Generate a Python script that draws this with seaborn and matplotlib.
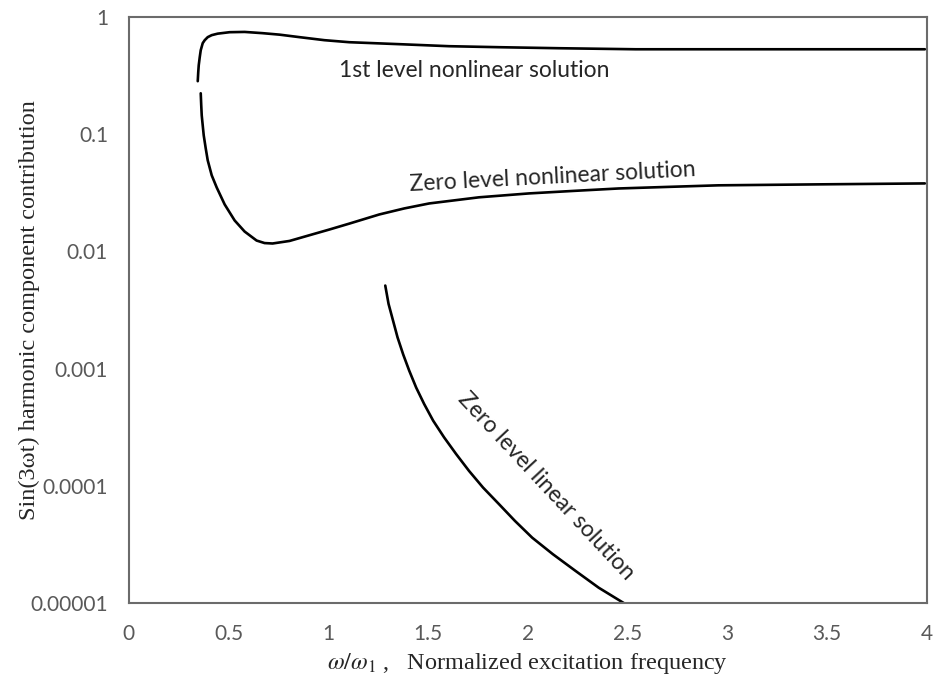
import matplotlib
matplotlib.use("Agg")
import matplotlib.pyplot as plt
import seaborn as sns
import pandas as pd

# values (x = omega/omega_1, y = contribution)
first_x = [0.345, 0.3475, 0.35, 0.355, 0.36, 0.37, 0.38, 0.395, 0.415, 0.445, 0.505, 0.58, 0.67,
           0.755, 0.855, 0.98, 1.105, 1.355, 1.605, 1.855, 2.155, 2.54, 3.105, 3.99]
first_y = [0.284, 0.339, 0.389, 0.455, 0.522, 0.60, 0.636, 0.675, 0.702, 0.723, 0.744, 0.748, 0.730,
           0.709, 0.675, 0.636, 0.611, 0.588, 0.565, 0.554, 0.543, 0.532, 0.532, 0.532]

zero_nl_x = [0.36, 0.3625, 0.365, 0.37, 0.375, 0.385, 0.395, 0.415, 0.44, 0.48, 0.53, 0.58, 0.64,
             0.68, 0.72, 0.805, 0.92, 1.005, 1.105, 1.255, 1.38, 1.505, 1.755, 2.005, 2.23, 2.455,
             2.705, 2.955, 3.455, 3.99]
zero_nl_y = [0.224, 0.177, 0.145, 0.119, 0.098, 0.0759, 0.060, 0.0447, 0.0352, 0.0252, 0.0184,
             0.0148, 0.0124, 0.0118, 0.0117, 0.0123, 0.0140, 0.0154, 0.0173, 0.0207, 0.0233,
             0.0257, 0.0290, 0.0313, 0.0329, 0.0345, 0.0356, 0.0367, 0.0374, 0.0381]

zero_lin_x = [1.285, 1.3015, 1.3465, 1.375, 1.405, 1.44, 1.48, 1.525, 1.58, 1.64, 1.705, 1.775,
              1.855, 1.935, 2.0215, 2.125, 2.2385, 2.355, 2.4885]
zero_lin_y = [0.00512, 0.00357, 0.00185, 0.00132, 0.000962, 0.000689, 0.000499, 0.000360, 0.000259,
              0.000187, 0.000134, 0.0000967, 0.0000698, 0.0000502, 0.0000361, 0.0000261,
              0.0000188, 0.0000135, 0.0000098]

y_ticks = [1, 0.1, 0.01, 0.001, 0.0001, 0.00001]
y_tick_labels = ["1", "0.1", "0.01", "0.001", "0.0001", "0.00001"]
x_ticks = [0, 0.5, 1, 1.5, 2, 2.5, 3, 3.5, 4]
x_tick_labels = ["0", "0.5", "1", "1.5", "2", "2.5", "3", "3.5", "4"]

sns.set_style("white")
plt.rcParams["mathtext.fontset"] = "stix"

fig = plt.figure(figsize=(9.41, 6.86), dpi=100)
ax = fig.add_axes([0.137, 0.121, 0.848, 0.854])

curves = [(first_x, first_y), (zero_nl_x, zero_nl_y), (zero_lin_x, zero_lin_y)]
for xs, ys in curves:
    df = pd.DataFrame({"x": xs, "y": ys})
    sns.lineplot(data=df, x="x", y="y", sort=False, color="black", linewidth=1.9, ax=ax)

ax.set_yscale("log")
ax.set_xlim(0, 4)
ax.set_ylim(0.00001, 1)
ax.set_yticks(y_ticks)
ax.set_yticklabels(y_tick_labels)
ax.minorticks_off()
ax.set_xticks(x_ticks)
ax.set_xticklabels(x_tick_labels)
ax.tick_params(axis="both", length=0, labelsize=15, labelcolor="#595959")
ax.tick_params(axis="y", pad=15)
ax.tick_params(axis="x", pad=15)
for lab in ax.get_xticklabels() + ax.get_yticklabels():
    lab.set_family("Lato")

for sp in ax.spines.values():
    sp.set_visible(True)
    sp.set_color("#6b6b6b")
    sp.set_linewidth(1.5)

ax.set_xlabel(r"$\omega/\omega_1$ ,   Normalized excitation frequency",
              family="Liberation Serif", fontsize=17.5, labelpad=5)
ax.set_ylabel("Sin(3ωt) harmonic component contribution",
              family="Liberation Serif", fontsize=17.5, labelpad=-7)

ax.text(1.73, 0.35, "1st level nonlinear solution", family="Lato", fontsize=16.5,
        ha="center", va="center")
ax.text(2.125, 0.043, "Zero level nonlinear solution", family="Lato", fontsize=16.5,
        ha="center", va="center", rotation=3)
ax.text(2.09, 0.0001, "Zero level linear solution", family="Lato", fontsize=16.5,
        ha="center", va="center", rotation=-47)

fig.savefig("out.png", dpi=100)
